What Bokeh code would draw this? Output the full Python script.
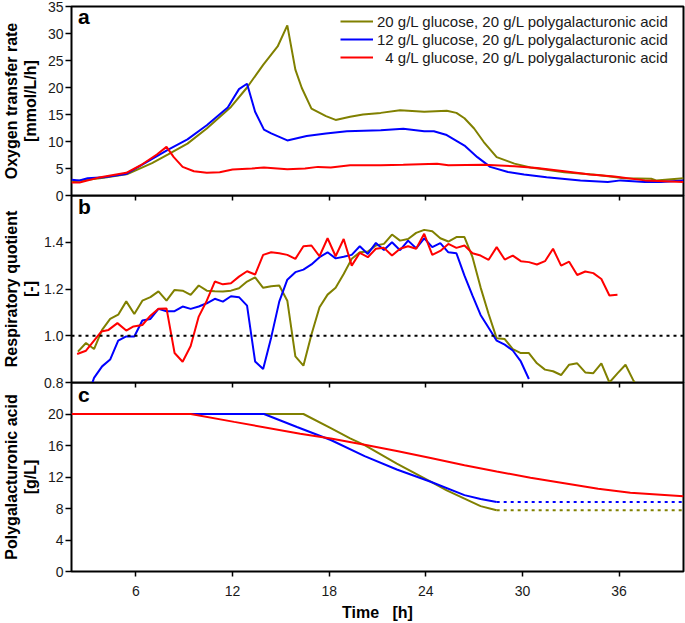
from bokeh.plotting import figure
from bokeh.layouts import column
from bokeh.models import Range1d, FixedTicker, PrintfTickFormatter, Span, Label
from bokeh.embed import file_html
from bokeh.resources import INLINE

# ---------------- data ----------------
series_labels = [
    "20 g/L glucose, 20 g/L polygalacturonic acid",
    "12 g/L glucose, 20 g/L polygalacturonic acid",
    "\u00a0\u00a04 g/L glucose, 20 g/L polygalacturonic acid",
]
series_colors = ["#808000", "#0000ff", "#ff0000"]

x_ticks = [6, 12, 18, 24, 30, 36]
otr_ticks = [0, 5, 10, 15, 20, 25, 30, 35]
rq_ticks = [0.8, 1.0, 1.2, 1.4]
pga_ticks = [0, 4, 8, 12, 16, 20]

# (a) oxygen transfer rate [mmol/L/h]
otr_t_20 = [2.0, 3.0, 4.0, 5.5, 7.0, 8.0, 9.2, 10.4, 11.9, 12.9, 13.9, 14.8, 15.4, 15.9, 16.3, 16.9, 17.8, 18.4,
            19.3, 20.1, 21.2, 22.4, 23.9, 25.3, 25.9, 26.4, 27.0, 27.6, 28.4, 29.5, 30.5, 32.6, 34.7, 36.3, 38.0, 38.3, 40.0]
otr_20 = [2.6, 2.9, 3.3, 4.0, 6.0, 7.6, 9.6, 12.4, 16.4, 20.0, 24.2, 27.6, 31.5, 23.3, 19.9, 16.1, 14.7, 14.0,
          14.6, 15.0, 15.3, 15.8, 15.5, 15.7, 15.3, 14.3, 12.4, 9.9, 7.1, 5.9, 5.2, 4.3, 3.8, 3.2, 3.1, 2.8, 3.2]
otr_t_12 = [2.0, 2.5, 3.0, 4.0, 5.4, 6.5, 7.95, 9.2, 10.4, 11.7, 12.4, 12.9, 13.4, 13.95, 14.4, 15.4, 16.6, 17.8,
            19.1, 21.2, 22.6, 23.9, 24.5, 25.3, 26.4, 27.2, 28.0, 29.1, 30.1, 31.5, 33.6, 35.3, 36.1, 37.6, 38.6, 40.0]
otr_12 = [2.9, 2.8, 3.2, 3.4, 4.0, 5.9, 8.4, 10.4, 13.0, 16.3, 19.7, 20.7, 15.5, 12.2, 11.5, 10.2, 11.0, 11.5,
          11.9, 12.1, 12.35, 11.9, 11.9, 11.2, 9.25, 7.1, 5.3, 4.35, 3.9, 3.4, 2.8, 2.5, 2.8, 2.5, 2.5, 2.8]
otr_t_4 = [2.0, 2.5, 3.8, 5.4, 6.3, 7.3, 7.9, 8.35, 8.9, 9.6, 10.4, 11.2, 12.0, 13.2, 13.95, 15.4, 16.5, 17.3,
           18.1, 19.3, 21.2, 22.6, 24.7, 25.4, 27.6, 29.5, 30.9, 32.6, 34.2, 35.7, 37.6, 40.0]
otr_4 = [2.4, 2.4, 3.4, 4.2, 5.6, 7.6, 9.0, 7.1, 5.3, 4.5, 4.2, 4.3, 4.8, 5.0, 5.2, 4.85, 5.0, 5.3,
         5.2, 5.6, 5.6, 5.7, 5.9, 5.6, 5.7, 5.4, 5.1, 4.5, 3.9, 3.5, 2.8, 2.5]

# (b) respiratory quotient [-]
rq_t_20 = [2.4, 2.9, 3.4, 3.9, 4.4, 4.9, 5.4, 5.9, 6.4, 6.9, 7.4, 7.9, 8.4, 8.9, 9.4, 9.9, 10.4, 10.9, 11.4, 11.9,
           12.4, 12.9, 13.4, 13.9, 14.4, 14.9, 15.4, 15.9, 16.4, 16.9, 17.4, 17.9, 18.4, 18.9, 19.4, 19.9, 20.4, 20.9,
           21.4, 21.9, 22.4, 22.9, 23.4, 23.9, 24.4, 24.9, 25.4, 25.9, 26.4, 26.9, 27.4, 27.9, 28.4, 28.9, 29.4, 29.9,
           30.4, 30.9, 31.4, 31.9, 32.4, 32.9, 33.4, 33.9, 34.4, 34.9, 35.4, 35.9, 36.4, 36.9, 37.4]
rq_20 = [0.932, 0.969, 0.943, 1.025, 1.072, 1.09, 1.147, 1.093, 1.15, 1.165, 1.19, 1.15, 1.196, 1.193, 1.175, 1.215,
         1.193, 1.19, 1.189, 1.193, 1.203, 1.232, 1.25, 1.205, 1.212, 1.215, 1.15, 0.912, 0.872, 1.005, 1.122, 1.176,
         1.205, 1.264, 1.329, 1.357, 1.36, 1.386, 1.393, 1.433, 1.407, 1.414, 1.44, 1.453, 1.447, 1.417, 1.403, 1.422,
         1.422, 1.336, 1.207, 1.093, 0.989, 0.986, 0.943, 0.926, 0.926, 0.882, 0.855, 0.848, 0.832, 0.876, 0.882,
         0.843, 0.84, 0.882, 0.8, 0.839, 0.876, 0.807, 0.76]
rq_t_12 = [2.9, 3.4, 3.9, 4.4, 4.9, 5.4, 5.9, 6.4, 6.9, 7.4, 7.9, 8.4, 8.9, 9.4, 9.9, 10.4, 10.9, 11.4, 11.9, 12.4,
           12.9, 13.4, 13.9, 14.4, 14.9, 15.4, 15.9, 16.4, 16.9, 17.4, 17.9, 18.4, 18.9, 19.4, 19.9, 20.4, 20.9, 21.4,
           21.9, 22.4, 22.9, 23.4, 23.9, 24.4, 24.9, 25.4, 25.9, 26.4, 26.9, 27.4, 27.9, 28.4, 28.9, 29.4, 29.9, 30.4]
rq_12 = [0.72, 0.82, 0.869, 0.898, 0.979, 0.997, 0.997, 1.065, 1.072, 1.115, 1.105, 1.105, 1.125, 1.115, 1.125,
         1.139, 1.158, 1.146, 1.169, 1.165, 1.129, 0.89, 0.858, 0.993, 1.146, 1.24, 1.272, 1.283, 1.305, 1.336,
         1.357, 1.331, 1.338, 1.346, 1.383, 1.35, 1.397, 1.367, 1.40, 1.366, 1.407, 1.374, 1.417, 1.379, 1.396,
         1.357, 1.353, 1.257, 1.172, 1.089, 1.034, 0.979, 0.962, 0.937, 0.89, 0.815]
rq_t_4 = [2.35, 2.9, 3.85, 4.3, 4.85, 5.4, 5.85, 6.4, 6.9, 7.4, 7.9, 8.4, 8.9, 9.4, 9.9, 10.4, 10.9, 11.4, 11.9,
          12.4, 12.9, 13.4, 13.9, 14.4, 14.9, 15.4, 15.9, 16.4, 16.9, 17.4, 17.9, 18.4, 18.9, 19.4, 19.9, 20.4, 20.9,
          21.4, 21.9, 22.4, 22.9, 23.4, 23.9, 24.4, 24.9, 25.4, 25.9, 26.4, 26.9, 27.4, 27.9, 28.4, 28.9, 29.4, 29.9,
          30.4, 30.9, 31.4, 31.9, 32.4, 32.9, 33.4, 33.9, 34.4, 34.9, 35.4, 35.9]
rq_4 = [0.922, 0.936, 1.018, 1.025, 1.054, 1.022, 1.04, 1.046, 1.086, 1.116, 1.117, 0.926, 0.889, 0.956, 1.082,
        1.15, 1.232, 1.22, 1.225, 1.253, 1.276, 1.262, 1.346, 1.357, 1.353, 1.346, 1.329, 1.383, 1.386, 1.34, 1.417,
        1.34, 1.414, 1.30, 1.355, 1.336, 1.372, 1.376, 1.343, 1.372, 1.383, 1.372, 1.436, 1.346, 1.363, 1.393, 1.376,
        1.386, 1.353, 1.343, 1.325, 1.379, 1.326, 1.343, 1.319, 1.315, 1.305, 1.319, 1.372, 1.30, 1.317, 1.26,
        1.275, 1.268, 1.243, 1.172, 1.175]
rq_reference = 1.0

# (c) polygalacturonic acid [g/L]
pga_t_20 = [2.0, 16.4, 18.1, 19.3, 20.2, 22.2, 24.3, 25.3, 26.4, 27.4, 28.4]
pga_20 = [20, 20, 18.2, 16.9, 16.05, 13.7, 11.4, 10.3, 9.26, 8.3, 7.77]
pga_t_12 = [2.0, 13.95, 16.0, 18.1, 20.2, 22.2, 24.3, 26.4, 27.4, 28.4]
pga_12 = [20, 20, 18.35, 16.7, 14.65, 12.95, 11.4, 9.7, 9.2, 8.83]
pga_t_4 = [2.0, 9.4, 12.1, 16.2, 18.1, 20.2, 22.2, 24.3, 26.4, 28.4, 30.5, 32.6, 34.7, 36.7, 40.0]
pga_4 = [20, 20, 19.0, 17.5, 16.9, 16.1, 15.3, 14.4, 13.5, 12.7, 11.9, 11.2, 10.5, 10.0, 9.55]
pga_t_end = 40.0

# ---------------- layout / style ----------------
FONT = "Liberation Sans"
LEGEND_FONT = "Arial"
W = 685
LEFT = 71
RIGHT = 2
OV = 12
x_range = Range1d(2, 40)


def panel(height, yr, yticks, ylabel, top, bottom, ylab_standoff, fmt=None, xlabels=False):
    p = figure(width=W, height=height, x_range=x_range, y_range=yr,
               output_backend="svg", toolbar_location=None,
               min_border_left=LEFT, min_border_right=RIGHT,
               min_border_top=top, min_border_bottom=bottom)
    p.xgrid.grid_line_color = None
    p.ygrid.grid_line_color = None
    p.outline_line_color = "black"
    p.outline_line_width = 2
    p.background_fill_color = None
    p.border_fill_color = None
    ya = p.yaxis[0]
    ya.ticker = FixedTicker(ticks=yticks)
    if fmt:
        ya.formatter = PrintfTickFormatter(format=fmt)
    ya.axis_line_color = None
    ya.major_tick_out = 6
    ya.major_tick_in = 0
    ya.major_tick_line_width = 1.5
    ya.major_tick_line_color = "black"
    ya.minor_tick_line_color = None
    ya.major_label_standoff = 2
    ya.major_label_text_font = FONT
    ya.major_label_text_font_size = "14px"
    ya.major_label_text_color = "#1a1a1a"
    ya.axis_label = ylabel
    ya.axis_label_standoff = ylab_standoff
    ya.axis_label_text_font = FONT
    ya.axis_label_text_font_size = "16px"
    ya.axis_label_text_font_style = "bold"
    ya.axis_label_text_color = "black"
    ya.axis_label_text_line_height = 1.1
    xa = p.xaxis[0]
    xa.ticker = FixedTicker(ticks=x_ticks)
    xa.axis_line_color = None
    xa.major_tick_out = 5
    xa.major_tick_in = 0
    xa.major_tick_line_width = 1.5
    xa.major_tick_line_color = "black"
    xa.minor_tick_line_color = None
    if xlabels:
        xa.major_label_standoff = 9
        xa.major_label_text_font = FONT
        xa.major_label_text_font_size = "14px"
        xa.major_label_text_color = "#1a1a1a"
        xa.axis_label = "Time\u00a0\u00a0\u00a0[h]"
        xa.axis_label_standoff = 5
        xa.axis_label_text_font = FONT
        xa.axis_label_text_font_size = "16px"
        xa.axis_label_text_font_style = "bold"
        xa.axis_label_text_color = "black"
    else:
        xa.major_label_standoff = 0
        xa.major_label_overrides = {t: "" for t in x_ticks}
        xa.major_label_text_font_size = "1px"
    return p


def letter(p, x, y, txt):
    p.add_layout(Label(x=x, y=y, text=txt, text_font=FONT, text_font_size="21px",
                       text_font_style="bold", text_color="black"))


# panel a  (frame 6..195)
pa = panel(6 + 189 + OV, Range1d(0, 35), otr_ticks, "Oxygen transfer rate\n[mmol/L/h]", 6, OV, 6)
for t, v, c, lab in zip([otr_t_20, otr_t_12, otr_t_4], [otr_20, otr_12, otr_4], series_colors, series_labels):
    pa.line(t, v, line_color=c, line_width=2, legend_label=lab)
lg = pa.legend[0]
lg.location = "top_right"
lg.border_line_color = None
lg.background_fill_alpha = 0
lg.margin = 6
lg.padding = 7
lg.spacing = 0
lg.glyph_width = 33
lg.glyph_height = 18
lg.label_height = 18
lg.label_width = 300
lg.label_standoff = 4
lg.label_text_font = LEGEND_FONT
lg.label_text_font_size = "15px"
lg.label_text_color = "#1a1a1a"
lg.label_text_baseline = "middle"
letter(pa, 2.4, 31.0, "a")

# panel b  (frame 195..382)
pb = panel(187 + OV, Range1d(0.8, 1.6), rq_ticks, "Respiratory quotient\n[-]", 0, OV, 2, fmt="%.1f")
pb.margin = (-OV, 0, 0, 0)
for t, v, c in zip([rq_t_20, rq_t_12, rq_t_4], [rq_20, rq_12, rq_4], series_colors):
    pb.line(t, v, line_color=c, line_width=2)
pb.add_layout(Span(location=rq_reference, dimension="width", line_color="black",
                   line_width=2, line_dash="3 4"))
letter(pb, 2.4, 1.505, "b")

# panel c  (frame 382..571)
pc = panel(241, Range1d(0, 24), pga_ticks, "Polygalacturonic acid\n[g/L]", 0, 52, 6, xlabels=True)
pc.margin = (-OV, 0, 0, 0)
for t, v, c in zip([pga_t_20, pga_t_12, pga_t_4], [pga_20, pga_12, pga_4], series_colors):
    pc.line(t, v, line_color=c, line_width=2)
for t, v, c in zip([pga_t_20, pga_t_12], [pga_20, pga_12], series_colors[:2]):
    pc.line([t[-1], pga_t_end], [v[-1], v[-1]], line_color=c, line_width=2, line_dash="3 4")
letter(pc, 2.4, 21.0, "c")

layout = column(pa, pb, pc, spacing=0)
open("out.html", "w").write(file_html(layout, INLINE))
